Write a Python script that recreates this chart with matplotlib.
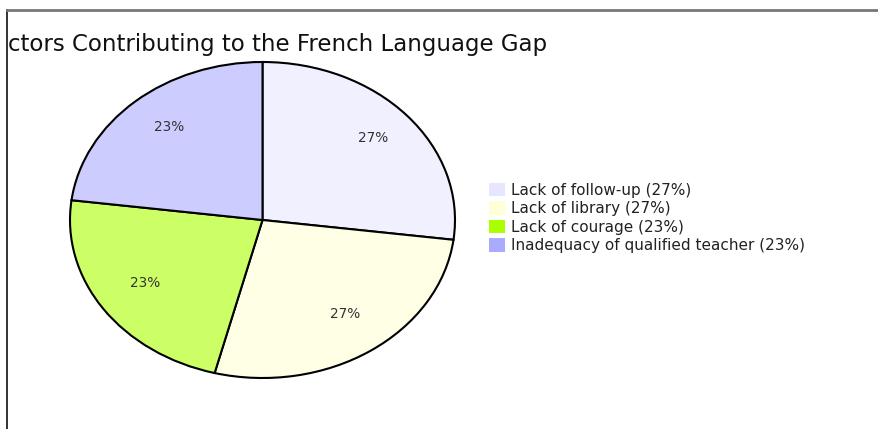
import matplotlib.pyplot as plt
from matplotlib.colors import to_rgb
from matplotlib.patches import Patch

labels = ['Lack of follow-up', 'Lack of library', 'Lack of courage',
          'Inadequacy of qualified teacher']
values = [27, 27, 23, 23]
colors = ['#e6e6ff', '#ffffd5', '#aaff00', '#aaaaff']
title = 'Factors Contributing to the French Language Gap'

# pie slices are a faded version of the legend colours
faded = [tuple(0.6 * c + 0.4 for c in to_rgb(col)) for col in colors]

W, H = 879, 429
fig = plt.figure(figsize=(W / 100, H / 100), dpi=100)

# frame around the chart area (top + left visible)
bg = fig.add_axes([7 / W, 0, 1 - 7 / W, (H - 10) / H])
bg.set_xlim(0, 1)
bg.set_ylim(0, 1)
bg.set_xticks([])
bg.set_yticks([])
for side in ['right', 'bottom']:
    bg.spines[side].set_visible(False)
bg.spines['top'].set_color('#777777')
bg.spines['top'].set_linewidth(2)
bg.spines['left'].set_color('#111111')
bg.spines['left'].set_linewidth(1.2)

# title, cut off on the left by the frame (as in the original)
bg.text((547 - 7) / (W - 7), (H - 51) / (H - 10), title,
        ha='right', va='baseline', fontsize=16.5, color='#111111',
        transform=bg.transAxes, clip_on=True)

# elliptical pie
ax = fig.add_axes([70 / W, 51 / H, 385 / W, 316 / H])
wedges, texts, autotexts = ax.pie(
    values, colors=faded, startangle=90, counterclock=False,
    autopct=lambda p: '%d%%' % round(p), pctdistance=0.75,
    wedgeprops=dict(edgecolor='black', linewidth=1.5),
    textprops=dict(fontsize=9.8, color='#333333'))
for a in autotexts:
    x, y = a.get_position()
    a.set_position((x + 0.01, y + 0.025))
ax.set_aspect('auto')
ax.set_xlim(-1.0, 1.0)
ax.set_ylim(-1.0, 1.0)

handles = [Patch(facecolor=c, edgecolor='none') for c in colors]
leg_labels = ['%s (%d%%)' % (l, v) for l, v in zip(labels, values)]
fig.legend(handles, leg_labels, loc='upper left',
           bbox_to_anchor=(481 / W, 1 - 175 / H), frameon=False,
           fontsize=11, handlelength=1.1, handleheight=1.0,
           handletextpad=0.35, labelspacing=0.22, borderpad=0,
           labelcolor='#222222')

fig.savefig('out.png', dpi=100)
